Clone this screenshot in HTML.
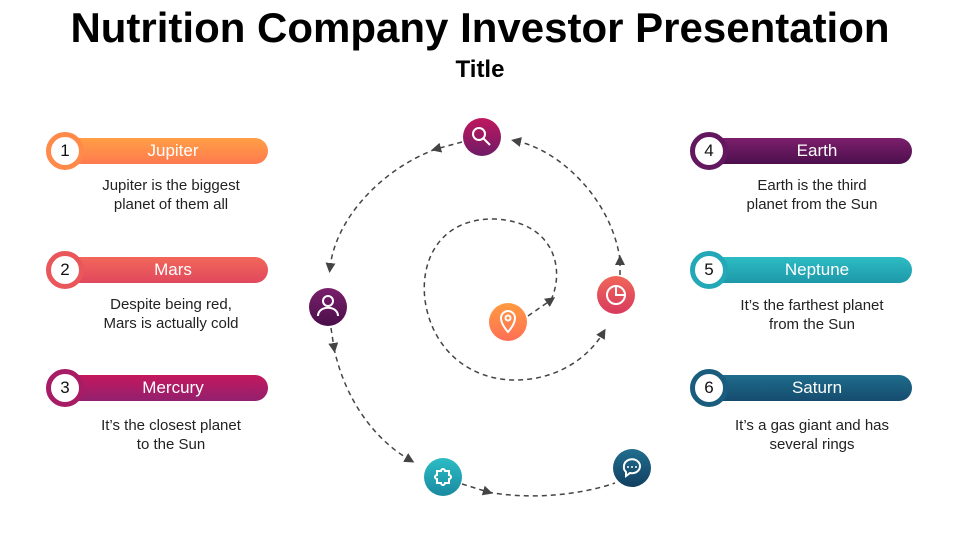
<!DOCTYPE html>
<html><head><meta charset="utf-8"><style>
body{margin:0;width:960px;height:540px;background:#fff;font-family:"Liberation Sans",sans-serif;position:relative;overflow:hidden}
h1{position:absolute;top:4px;left:0;width:960px;text-align:center;margin:0;font-size:42px;font-weight:bold;color:#000}
h2{position:absolute;top:56px;left:0;width:960px;text-align:center;margin:0;font-size:24px;font-weight:bold}
.pill{position:absolute;width:220px;height:26px;border-radius:13px;color:#fff;font-size:17px;line-height:26px}
.pill span.t{position:absolute;left:30px;right:0;text-align:center}
.num{position:absolute;left:-2px;top:-6px;width:28px;height:28px;border-radius:50%;background:#fff;border:5px solid;color:#111;text-align:center;line-height:28px;font-size:17px}
.desc{position:absolute;width:240px;text-align:center;font-size:15px;line-height:19px;color:#222}
</style></head><body>
<h1>Nutrition Company Investor Presentation</h1>
<h2>Title</h2>

<div class="pill" style="left:48px;top:138px;background:linear-gradient(#ff9f45,#ff7a4f)"><div class="num" style="border-color:#ff8a4a">1</div><span class="t">Jupiter</span></div>
<div class="desc" style="left:51px;top:176px">Jupiter is the biggest<br>planet of them all</div>
<div class="pill" style="left:48px;top:257px;background:linear-gradient(#f2675a,#e0485c)"><div class="num" style="border-color:#ea575b">2</div><span class="t">Mars</span></div>
<div class="desc" style="left:51px;top:295px">Despite being red,<br>Mars is actually cold</div>
<div class="pill" style="left:48px;top:375px;background:linear-gradient(#c4185e,#92206e)"><div class="num" style="border-color:#a81c66">3</div><span class="t">Mercury</span></div>
<div class="desc" style="left:51px;top:416px">It’s the closest planet<br>to the Sun</div>

<div class="pill" style="left:692px;top:138px;background:linear-gradient(#7c1f6c,#4c0f4c)"><div class="num" style="border-color:#62175e">4</div><span class="t">Earth</span></div>
<div class="desc" style="left:692px;top:176px">Earth is the third<br>planet from the Sun</div>
<div class="pill" style="left:692px;top:257px;background:linear-gradient(#2cbcc4,#1e98a8)"><div class="num" style="border-color:#22a8b6">5</div><span class="t">Neptune</span></div>
<div class="desc" style="left:692px;top:296px">It’s the farthest planet<br>from the Sun</div>
<div class="pill" style="left:692px;top:375px;background:linear-gradient(#1f6c8c,#154c6e)"><div class="num" style="border-color:#1a5c7e">6</div><span class="t">Saturn</span></div>
<div class="desc" style="left:692px;top:416px">It’s a gas giant and has<br>several rings</div>

<svg width="960" height="540" style="position:absolute;left:0;top:0">
<defs>
<marker id="a" viewBox="0 0 10 10" refX="5" refY="5" markerWidth="10" markerHeight="10" orient="auto" markerUnits="userSpaceOnUse"><path d="M0,0L10,5L0,10z" fill="#444"/></marker>
<linearGradient id="g1" x1="0" y1="0" x2="0" y2="1"><stop offset="0" stop-color="#ff9a40"/><stop offset="1" stop-color="#ff6f55"/></linearGradient>
<linearGradient id="g2" x1="0" y1="0" x2="0" y2="1"><stop offset="0" stop-color="#f06658"/><stop offset="1" stop-color="#d83a5e"/></linearGradient>
<linearGradient id="g3" x1="0" y1="0" x2="0" y2="1"><stop offset="0" stop-color="#c0185e"/><stop offset="1" stop-color="#6e1a66"/></linearGradient>
<linearGradient id="g4" x1="0" y1="0" x2="0" y2="1"><stop offset="0" stop-color="#7a1f6c"/><stop offset="1" stop-color="#4a0f4a"/></linearGradient>
<linearGradient id="g5" x1="0" y1="0" x2="0" y2="1"><stop offset="0" stop-color="#2cbcc4"/><stop offset="1" stop-color="#1a8aa0"/></linearGradient>
<linearGradient id="g6" x1="0" y1="0" x2="0" y2="1"><stop offset="0" stop-color="#216e8e"/><stop offset="1" stop-color="#123f60"/></linearGradient>
</defs>
<g fill="none" stroke="#444" stroke-width="1.5" stroke-dasharray="5,4">
<path d="M528,316 L551,300" marker-end="url(#a)"/>
<path d="M551,300 C565,270 555,222 495,219 C440,218 420,260 425,300 C432,350 470,380 515,380 C560,380 590,355 603,333" marker-end="url(#a)"/>
<path d="M620,275 L620,260" marker-end="url(#a)"/>
<path d="M620,260 C612,200 560,150 516,141" marker-end="url(#a)"/>
<path d="M462,142 L436,149" marker-end="url(#a)"/>
<path d="M436,149 C380,170 335,220 330,268" marker-end="url(#a)"/>
<path d="M331,328 L334,348" marker-end="url(#a)"/>
<path d="M334,348 C345,400 375,440 410,460" marker-end="url(#a)"/>
<path d="M462,484 L488,492" marker-end="url(#a)"/>
<path d="M488,492 C530,500 580,495 615,483"/>
</g>
<circle cx="482" cy="137" r="19" fill="url(#g3)"/>
<circle cx="328" cy="307" r="19" fill="url(#g4)"/>
<circle cx="508" cy="322" r="19" fill="url(#g1)"/>
<circle cx="616" cy="295" r="19" fill="url(#g2)"/>
<circle cx="443" cy="477" r="19" fill="url(#g5)"/>
<circle cx="632" cy="468" r="19" fill="url(#g6)"/>
<g fill="none" stroke="#fff" stroke-width="2">
<circle cx="479" cy="134" r="6"/><path d="M483,138 L490,145"/>
<circle cx="328" cy="301" r="5"/><path d="M318,316 C318,305 338,305 338,316"/>
<path d="M508,332 C502,325 501,321 501,318 A7,7 0 0 1 515,318 C515,321 514,325 508,332z"/><circle cx="508" cy="318" r="2.5"/>
<circle cx="616" cy="295" r="9"/><path d="M616,286 L616,295 L625,295"/>
<path d="M437,471 h4 a2,2 0 0 1 4,0 h4 v4 a2,2 0 0 1 0,4 v4 h-4 a2,2 0 0 1 -4,0 h-4 v-4 a2,2 0 0 1 0,-4z"/>
<path d="M624,466 a8,7 0 1 1 6,7 l-4,3 v-4 a8,7 0 0 1 -2,-6z"/>
</g>
<g fill="#fff"><circle cx="628" cy="467" r="1"/><circle cx="632" cy="467" r="1"/><circle cx="636" cy="467" r="1"/></g>
</svg>
</body></html>
